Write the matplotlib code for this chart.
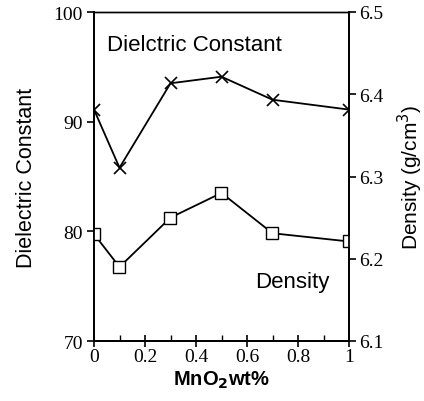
import matplotlib
matplotlib.use("Agg")
import matplotlib.pyplot as plt
from matplotlib.ticker import MultipleLocator

mno2 = [0, 0.1, 0.3, 0.5, 0.7, 1.0]
dielectric = [91.1, 85.8, 93.5, 94.1, 92.0, 91.1]
density = [6.230, 6.190, 6.250, 6.280, 6.231, 6.221]

x_ticks = [0, 0.2, 0.4, 0.6, 0.8, 1]
x_ticklabels = ["0", "0.2", "0.4", "0.6", "0.8", "1"]
left_ticks = [70, 80, 90, 100]
right_ticks = [6.1, 6.2, 6.3, 6.4, 6.5]

serif = "Liberation Serif"
sans = "Liberation Sans"

fig = plt.figure(figsize=(4.24, 4.02), dpi=100)
ax = fig.add_axes([94/424, 1-342/402, (349-94)/424, (342-13)/402])
ax2 = ax.twinx()

ax.plot(mno2, dielectric, color="black", lw=1.3, marker="x", ms=9, mew=1.2)
ax2.plot(mno2, density, color="black", lw=1.3, marker="s", ms=8, mfc="white", mew=1.0)

ax.set_xlim(0, 1)
ax.set_ylim(70, 100)
ax2.set_ylim(6.1, 6.5)

ax.set_xticks(x_ticks)
ax.set_xticklabels(x_ticklabels, fontfamily=serif, fontsize=14)
ax.xaxis.set_minor_locator(MultipleLocator(0.1))
ax.set_yticks(left_ticks)
ax.set_yticklabels([str(v) for v in left_ticks], fontfamily=serif, fontsize=14)
ax2.set_yticks(right_ticks)
ax2.set_yticklabels([f"{v:.1f}" for v in right_ticks], fontfamily=serif, fontsize=14)

ax.tick_params(axis="x", which="major", direction="inout", length=8, width=1.2, pad=1)
ax.tick_params(axis="x", which="minor", direction="in", length=4, width=1.0)
ax.tick_params(axis="y", direction="out", length=5, width=1.2, pad=3)
ax2.tick_params(axis="y", direction="out", length=5, width=1.2, pad=2)

for a in (ax, ax2):
    for s in a.spines.values():
        s.set_linewidth(1.3)
    a.spines["top"].set_linewidth(1.0)

ax.set_ylabel("Dielectric Constant", fontfamily=sans, fontsize=15.5, labelpad=12)
ax2.set_ylabel("Density (g/cm$^3$)", fontfamily=sans, fontsize=15, labelpad=9)
ax.set_xlabel("MnO$_\\mathbf{2}$wt%", fontfamily=sans, fontsize=14.5, fontweight="bold", labelpad=3)

ax.text(0.05, 0.90, "Dielctric Constant", transform=ax.transAxes, fontfamily=sans, fontsize=16, ha="left", va="center")
ax.text(0.63, 0.18, "Density", transform=ax.transAxes, fontfamily=sans, fontsize=16, ha="left", va="center")

fig.savefig("out.png", dpi=100)
